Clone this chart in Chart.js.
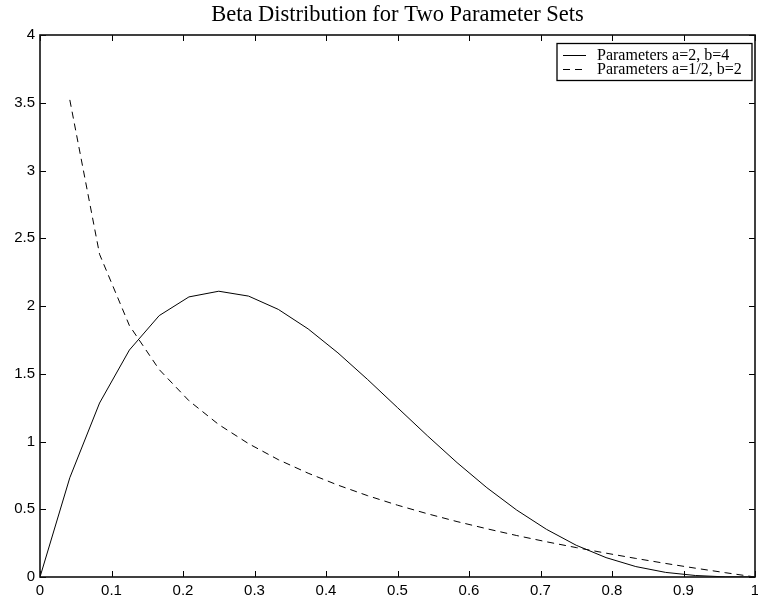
<!DOCTYPE html>
<html>
<head>
<meta charset="utf-8">
<script src="https://cdn.jsdelivr.net/npm/chart.js@4/dist/chart.umd.min.js"></script>
<style>
  html, body { margin: 0; padding: 0; background: #fff; }
  #wrap { width: 758px; height: 604px; }
</style>
</head>
<body>
<div id="wrap"><canvas id="c" width="758" height="604"></canvas></div>
<script>
// ---- data ----
const xValues = [0, 0.0417, 0.0833, 0.125, 0.1667, 0.2083, 0.25, 0.2917, 0.3333, 0.375, 0.4167, 0.4583, 0.5,
                 0.5417, 0.5833, 0.625, 0.6667, 0.7083, 0.75, 0.7917, 0.8333, 0.875, 0.9167, 0.9583, 1];
const solidValues = [0, 0.733, 1.284, 1.675, 1.929, 2.067, 2.109, 2.073, 1.975, 1.831, 1.654, 1.457, 1.25,
                     1.043, 0.844, 0.659, 0.494, 0.352, 0.234, 0.143, 0.077, 0.034, 0.011, 0.001, 0];
const dashedValues = [null, 3.521, 2.382, 1.856, 1.531, 1.301, 1.125, 0.984, 0.866, 0.766, 0.678, 0.600, 0.530,
                      0.467, 0.409, 0.356, 0.306, 0.260, 0.217, 0.176, 0.137, 0.100, 0.065, 0.032, 0];
const seriesLabels = ['Parameters a=2, b=4', 'Parameters a=1/2, b=2'];
const xTickLabels = ['0', '0.1', '0.2', '0.3', '0.4', '0.5', '0.6', '0.7', '0.8', '0.9', '1'];
const yTickLabels = ['0', '0.5', '1', '1.5', '2', '2.5', '3', '3.5', '4'];
const titleText = 'Beta Distribution for Two Parameter Sets';

function toPoints(ys) {
  const pts = [];
  ys.forEach((y, i) => { if (y !== null) pts.push({ x: xValues[i], y: y }); });
  return pts;
}

const framePlugin = {
  id: 'frame',
  afterDraw(chart) {
    const { ctx, chartArea: a, scales } = chart;
    ctx.save();
    ctx.strokeStyle = '#000';
    ctx.lineWidth = 1;
    const tl = 6;
    scales.x.ticks.forEach(t => {
      const px = Math.round(scales.x.getPixelForValue(t.value)) + 0.5;
      ctx.beginPath();
      ctx.moveTo(px, a.bottom); ctx.lineTo(px, a.bottom - tl);
      ctx.moveTo(px, a.top); ctx.lineTo(px, a.top + tl);
      ctx.stroke();
    });
    scales.y.ticks.forEach(t => {
      const py = Math.round(scales.y.getPixelForValue(t.value)) + 0.5;
      ctx.beginPath();
      ctx.moveTo(a.left, py); ctx.lineTo(a.left + tl, py);
      ctx.moveTo(a.right, py); ctx.lineTo(a.right - tl, py);
      ctx.stroke();
    });
    ctx.lineWidth = 1.6;
    ctx.strokeStyle = '#111';
    ctx.strokeRect(a.left, a.top, a.right - a.left, a.bottom - a.top);

    // legend
    const bx = 557, by = 43.5, bw = 195, bh = 37;
    ctx.fillStyle = '#fff';
    ctx.fillRect(bx, by, bw, bh);
    ctx.lineWidth = 1.3;
    ctx.strokeStyle = '#000';
    ctx.strokeRect(bx, by, bw, bh);
    ctx.font = '16px "Liberation Serif", "DejaVu Serif", serif';
    ctx.fillStyle = '#000';
    ctx.textBaseline = 'middle';
    ctx.textAlign = 'left';
    chart.data.datasets.forEach((ds, i) => {
      const yy = by + 11 + i * 14.5;
      ctx.beginPath();
      ctx.lineWidth = 1;
      ctx.setLineDash(ds.borderDash || []);
      ctx.moveTo(bx + 6, Math.round(yy) + 0.5);
      ctx.lineTo(bx + 29, Math.round(yy) + 0.5);
      ctx.stroke();
      ctx.setLineDash([]);
      ctx.fillText(ds.label, bx + 40, yy + 1);
    });
    ctx.restore();
  }
};

new Chart(document.getElementById('c'), {
  type: 'line',
  data: {
    datasets: [
      { label: seriesLabels[0], data: toPoints(solidValues), borderColor: '#000', borderWidth: 1,
        pointRadius: 0, tension: 0, fill: false },
      { label: seriesLabels[1], data: toPoints(dashedValues), borderColor: '#000', borderWidth: 1,
        borderDash: [7, 5], pointRadius: 0, tension: 0, fill: false }
    ]
  },
  options: {
    responsive: false,
    animation: false,
    events: [],
    layout: { padding: { left: 0, right: 3, top: 0, bottom: 0 } },
    plugins: {
      legend: { display: false },
      tooltip: { enabled: false },
      title: {
        display: true,
        text: titleText,
        fullSize: false,
        color: '#000',
        font: { family: '"Liberation Serif", "DejaVu Serif", serif', size: 22.5, weight: 'normal', lineHeight: 1.2 },
        padding: { top: 2, bottom: 6 }
      }
    },
    scales: {
      x: {
        type: 'linear', min: 0, max: 1,
        ticks: {
          stepSize: 0.1, padding: 5, color: '#000', maxRotation: 0, autoSkip: false,
          font: { family: '"Liberation Sans", Arial, sans-serif', size: 15 },
          callback: (v, i) => xTickLabels[i]
        },
        grid: { display: false, drawTicks: false },
        border: { display: false },
        afterFit: s => { s.height = 27; s.paddingLeft = 0; s.paddingRight = 0; }
      },
      y: {
        type: 'linear', min: 0, max: 4,
        ticks: {
          stepSize: 0.5, padding: 5, color: '#000', autoSkip: false,
          font: { family: '"Liberation Sans", Arial, sans-serif', size: 15 },
          callback: (v, i) => yTickLabels[i]
        },
        grid: { display: false, drawTicks: false },
        border: { display: false },
        afterFit: s => { s.width = 40; s.paddingTop = 0; s.paddingBottom = 0; }
      }
    }
  },
  plugins: [framePlugin]
});
</script>
</body>
</html>
